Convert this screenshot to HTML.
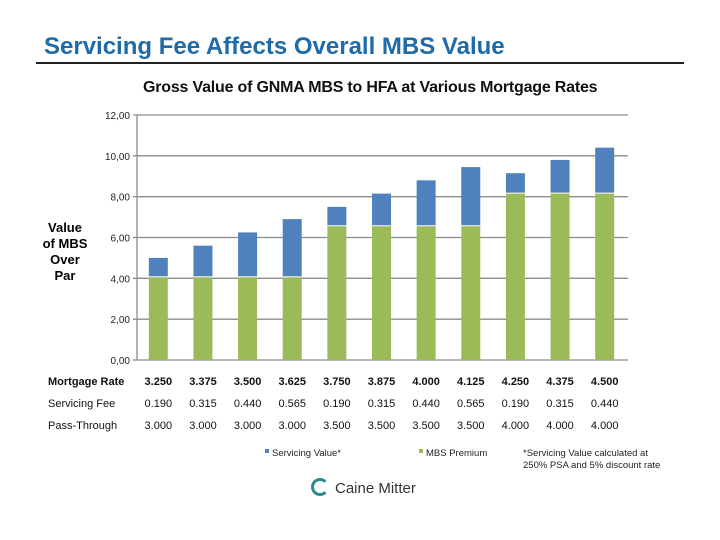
<!DOCTYPE html>
<html><head><meta charset="utf-8"><style>
body{margin:0;width:720px;height:540px;background:#fff;font-family:"Liberation Sans",sans-serif;overflow:hidden;position:relative}
.t{position:absolute;white-space:nowrap}
</style></head><body>
<div class="t" style="left:44px;top:33px;font-size:24px;font-weight:bold;color:#1f6aa8">Servicing Fee Affects Overall MBS Value</div>
<div style="position:absolute;left:36px;top:62px;width:648px;height:2px;background:#222"></div>
<div class="t" style="left:143px;top:79px;font-size:16px;font-weight:bold;color:#111;letter-spacing:-0.2px">Gross Value of GNMA MBS to HFA at Various Mortgage Rates</div>
<div class="t" style="left:36px;top:220px;width:58px;text-align:center;font-size:13px;font-weight:bold;line-height:16px">Value<br>of MBS<br>Over<br>Par</div>
<svg id="chart" width="720" height="540" style="position:absolute;left:0;top:0"></svg>
<div class="t" style="left:311px;top:478px;font-size:15px;color:#333"><span style="display:inline-block;width:12px;height:12px;border:3px solid #2a8a8a;border-right-color:transparent;border-radius:50%;vertical-align:-3px;margin-right:6px"></span>Caine Mitter</div>
<script>
const categories=["3.250","3.375","3.500","3.625","3.750","3.875","4.000","4.125","4.250","4.375","4.500"];
const servicingFee=["0.190","0.315","0.440","0.565","0.190","0.315","0.440","0.565","0.190","0.315","0.440"];
const passThrough=["3.000","3.000","3.000","3.000","3.500","3.500","3.500","3.500","4.000","4.000","4.000"];
const mbsPremium=[4.05,4.05,4.05,4.05,6.55,6.55,6.55,6.55,8.15,8.15,8.15];
const servicingValue=[0.95,1.55,2.2,2.85,0.95,1.6,2.25,2.9,1.0,1.65,2.25];
const yTicks=[0,2,4,6,8,10,12];
const svg=document.getElementById('chart');const NS='http://www.w3.org/2000/svg';
const x0=137,x1=628,y0=360,yTop=115;
const Y=v=>y0-(v/12)*(y0-yTop);
const step=(x1-x0)/categories.length;
const X=i=>x0+step*(i+0.5)-1;
function mk(t,a){const e=document.createElementNS(NS,t);for(const k in a)e.setAttribute(k,a[k]);svg.appendChild(e);return e;}
yTicks.forEach(v=>{
 const l=mk('line',{x1:x0-4,x2:x1,y1:Y(v),y2:Y(v),stroke:'#8c8c8c','stroke-width':1.3});
 
 
 const t=mk('text',{x:x0-7,y:Y(v)+4,'text-anchor':'end','font-size':10,fill:'#222','font-family':'Liberation Sans'});
 t.textContent=v.toFixed(2).replace('.',',');
 
 
});
mk('line',{x1:x0,x2:x0,y1:yTop,y2:y0,stroke:'#8c8c8c','stroke-width':1.3});
const bw=19;
categories.forEach((c,i)=>{
 const g=mk('rect',{x:X(i)-bw/2,y:Y(mbsPremium[i]),width:bw,height:y0-Y(mbsPremium[i]),fill:'#9bbb59'});
 
 
 const tot=mbsPremium[i]+servicingValue[i];
 const b=mk('rect',{x:X(i)-bw/2,y:Y(tot),width:bw,height:Y(mbsPremium[i])-Y(tot)-1,fill:'#4f81bd'});
 
 
 [[c,385,true],[servicingFee[i],407,false],[passThrough[i],429,false]].forEach(([s,y,bold])=>{
  const t=mk('text',{x:X(i),y:y,'text-anchor':'middle','font-size':11,fill:'#111','font-family':'Liberation Sans','font-weight':bold?'bold':'normal'});
  t.textContent=s;
  
  
 });
});
[['Mortgage Rate',385,true],['Servicing Fee',407,false],['Pass-Through',429,false]].forEach(([s,y,b])=>{
 const t=mk('text',{x:48,y:y,'font-size':11,fill:'#111','font-family':'Liberation Sans','font-weight':b?'bold':'normal'});
 t.textContent=s;
 
 
});
[['Servicing Value*','#4f81bd',265],['MBS Premium','#9bbb59',419]].forEach(([s,c,x])=>{
 const r=mk('rect',{x:x,y:449,width:4,height:4,fill:c});
 
 
 const t=mk('text',{x:x+7,y:456,'font-size':9.5,fill:'#222','font-family':'Liberation Sans'});
 t.textContent=s;
 
 
});
['*Servicing Value calculated at','250% PSA and 5% discount rate'].forEach((s,k)=>{
 const t=mk('text',{x:523,y:456+k*12,'font-size':9.5,fill:'#222','font-family':'Liberation Sans'});
 t.textContent=s;
 
 
});
</script>
</body></html>
